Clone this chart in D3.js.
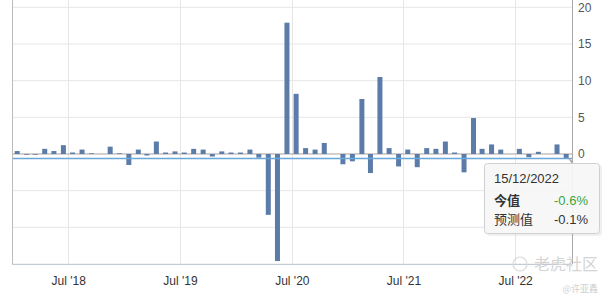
<!DOCTYPE html>
<html>
<head>
<meta charset="utf-8">
<script src="https://cdn.jsdelivr.net/npm/d3@7"></script>
<style>
  html, body { margin: 0; padding: 0; background: #fff; }
  svg { display: block; font-family: "Liberation Sans", Arial, sans-serif; }
</style>
</head>
<body>
<svg id="chart" width="608" height="299"></svg>
<script>
// ---- data (release dates, MoM %) ----
const releaseDates = [
  "2018-01-15","2018-02-15","2018-03-15","2018-04-15","2018-05-15","2018-06-15",
  "2018-07-15","2018-08-15","2018-09-15","2018-10-15","2018-11-15","2018-12-15",
  "2019-01-15","2019-02-15","2019-03-15","2019-04-15","2019-05-15","2019-06-15",
  "2019-07-15","2019-08-15","2019-09-15","2019-10-15","2019-11-15","2019-12-15",
  "2020-01-15","2020-02-15","2020-03-15","2020-04-15","2020-05-15","2020-06-15",
  "2020-07-15","2020-08-15","2020-09-15","2020-10-15","2020-11-15","2020-12-15",
  "2021-01-15","2021-02-15","2021-03-15","2021-04-15","2021-05-15","2021-06-15",
  "2021-07-15","2021-08-15","2021-09-15","2021-10-15","2021-11-15","2021-12-15",
  "2022-01-15","2022-02-15","2022-03-15","2022-04-15","2022-05-15","2022-06-15",
  "2022-07-15","2022-08-15","2022-09-15","2022-10-15","2022-11-15","2022-12-15"
];
const actualValues = [
  0.4, -0.1, -0.1, 0.7, 0.4, 1.2,
  0.2, 0.6, 0.1, 0.0, 1.0, 0.1,
  -1.5, 0.6, -0.2, 1.7, 0.2, 0.35,
  0.2, 0.7, 0.6, -0.35, 0.35, 0.2,
  0.2, 0.6, -0.5, -8.3, -14.6, 17.9,
  8.2, 0.8, 0.6, 1.5, 0.0, -1.4,
  -1.0, 7.5, -2.6, 10.5, 0.8, -1.7,
  0.6, -1.8, 0.8, 0.7, 1.7, 0.2,
  -2.5, 4.9, 0.7, 1.3, 0.6, 0.0,
  0.7, -0.45, 0.3, 0.0, 1.3, -0.6
];
const yTickValues = [0, 5, 10, 15, 20];
const gridValues = [-15, -10, -5, 0, 5, 10, 15, 20];
const xTickDates = ["2018-07-01","2019-07-01","2020-07-01","2021-07-01","2022-07-01"];
const xTickLabels = ["Jul '18","Jul '19","Jul '20","Jul '21","Jul '22"];
const latestValue = -0.6;
const tooltipDate = "15/12/2022";
const tooltipRows = [
  { label: "今值", value: "-0.6%", bold: true, color: "#3aa63a" },
  { label: "预测值", value: "-0.1%", bold: false, color: "#333" }
];

// ---- layout ----
const svg = d3.select("#chart");
const plotL = 12, plotR = 572, plotT = 0, plotB = 264;
const parse = d3.timeParse("%Y-%m-%d");
const x = d3.scaleTime()
  .domain([parse("2017-12-29"), parse("2023-01-03")])
  .range([plotL, plotR]);
const y = d3.scaleLinear().domain([-15, 20]).range([plotB, 7.3]);

// horizontal gridlines
svg.append("g").selectAll("line").data(gridValues).join("line")
  .attr("x1", plotL).attr("x2", plotR)
  .attr("y1", d => y(d)).attr("y2", d => y(d))
  .attr("stroke", "#e6e6e6").attr("stroke-width", 1);

// vertical gridlines
svg.append("g").selectAll("line").data(xTickDates).join("line")
  .attr("x1", d => Math.round(x(parse(d))) + 0.5).attr("x2", d => Math.round(x(parse(d))) + 0.5)
  .attr("y1", plotT).attr("y2", plotB)
  .attr("stroke", "#e6e6e6").attr("stroke-width", 1);

// zero line
svg.append("line")
  .attr("x1", plotL).attr("x2", plotR)
  .attr("y1", y(0)).attr("y2", y(0))
  .attr("stroke", "#b8aaaa").attr("stroke-width", 1);

// bars
const barW = 5;
svg.append("g").selectAll("rect").data(actualValues).join("rect")
  .attr("x", (d, i) => x(parse(releaseDates[i])) - barW / 2)
  .attr("y", d => y(Math.max(0, d)))
  .attr("width", barW)
  .attr("height", d => Math.abs(y(d) - y(0)))
  .attr("fill", "#5b7ca8");

// latest value plot line
svg.append("line")
  .attr("x1", plotL).attr("x2", plotR)
  .attr("y1", y(latestValue)).attr("y2", y(latestValue))
  .attr("stroke", "#6aa6d6").attr("stroke-width", 1.5);

// axis frame lines
svg.append("line").attr("x1", plotL + 0.5).attr("x2", plotL + 0.5).attr("y1", plotT).attr("y2", plotB)
  .attr("stroke", "#bdbdbd");
svg.append("line").attr("x1", plotR + 0.5).attr("x2", plotR + 0.5).attr("y1", plotT).attr("y2", plotB)
  .attr("stroke", "#a8a8a8");

// right y axis labels
const yAxis = svg.append("g")
  .attr("transform", `translate(${plotR},0)`)
  .call(d3.axisRight(y).tickValues(yTickValues).tickSize(0).tickPadding(6).tickFormat(d3.format("d")));
yAxis.select(".domain").remove();
yAxis.selectAll("text").attr("fill", "#555").style("font-size", "12px")
  .style("font-family", "Liberation Sans, Arial, sans-serif");

// bottom x axis
const xAxis = svg.append("g")
  .attr("transform", `translate(0,${plotB})`)
  .call(d3.axisBottom(x).tickValues(xTickDates.map(parse)).tickSize(0).tickPadding(12)
    .tickFormat((d, i) => xTickLabels[i]));
xAxis.select(".domain").attr("stroke", "#c4cbd8").attr("d", `M${plotL},0.5H${plotR}`);
xAxis.selectAll("text").attr("fill", "#333").style("font-size", "12px")
  .style("font-family", "Liberation Sans, Arial, sans-serif");

// tooltip
const last = releaseDates.length - 1;
const px = x(parse(releaseDates[last])), py = y(0);
const tip = svg.append("g");
tip.append("rect")
  .attr("x", 487).attr("y", 165).attr("width", 115).attr("height", 71).attr("rx", 3)
  .attr("fill", "#000").attr("opacity", 0.06);
tip.append("path")
  .attr("d", `M${px + 1},${py + 3} L${px + 6},${py + 7} L${px + 6},${py + 10} Z`)
  .attr("fill", "#9aa0a8");
tip.append("rect")
  .attr("x", 484.5).attr("y", 163.5).attr("width", 115).attr("height", 70).attr("rx", 3)
  .attr("fill", "#f7f7f7").attr("fill-opacity", 0.95)
  .attr("stroke", "#d0d0d0");
tip.append("text").attr("x", 494).attr("y", 183)
  .attr("fill", "#333").style("font-size", "13px").text(tooltipDate);
tooltipRows.forEach((r, i) => {
  const ty = 205 + i * 19;
  tip.append("text").attr("x", 494).attr("y", ty)
    .attr("fill", "#333").style("font-size", "13px")
    .style("font-weight", r.bold ? "bold" : "normal")
    .style("font-family", "Noto Sans CJK SC, sans-serif").text(r.label);
  tip.append("text").attr("x", 588).attr("y", ty).attr("text-anchor", "end")
    .attr("fill", r.color).style("font-size", "13px").text(r.value);
});

// watermark
svg.append("circle").attr("cx", 520).attr("cy", 264).attr("r", 7)
  .attr("fill", "none").attr("stroke", "#d8d8d8").attr("stroke-width", 1.2);
svg.append("text").attr("x", 598).attr("y", 270).attr("text-anchor", "end")
  .attr("fill", "#d4d4d4").style("font-size", "16px")
  .style("font-family", "Noto Sans CJK SC, sans-serif").text("老虎社区");
svg.append("text").attr("x", 598).attr("y", 292).attr("text-anchor", "end")
  .attr("fill", "#cfcfcf").style("font-size", "9px")
  .style("font-family", "Noto Sans CJK SC, sans-serif").text("@许亚鑫");
</script>
</body>
</html>
